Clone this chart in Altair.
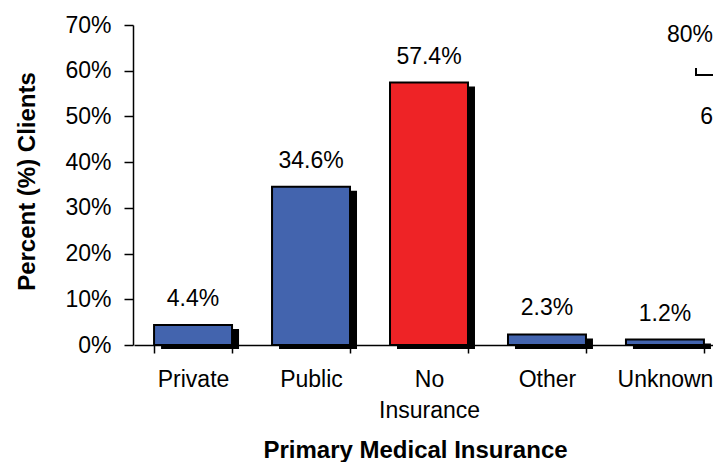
import altair as alt
import pandas as pd

categories = ["Private", "Public", "No Insurance", "Other", "Unknown"]
percents = [4.4, 34.6, 57.4, 2.3, 1.2]
bar_colors = ["#4364AE", "#4364AE", "#EE2326", "#4364AE", "#4364AE"]
value_labels = ["4.4%", "34.6%", "57.4%", "2.3%", "1.2%"]
y_ticks = [0, 10, 20, 30, 40, 50, 60, 70]

# fragments of a neighbouring chart visible at the right edge
fragment_texts = ["80%", "6"]

FONT = "Liberation Sans"
FS = 23

df = pd.DataFrame({"category": categories, "pct": percents,
                   "color": bar_colors, "label": value_labels})

x = alt.X("category:N", sort=categories,
          scale=alt.Scale(paddingInner=0.339, paddingOuter=0.17, range=[1, 591]),
          axis=alt.Axis(title="Primary Medical Insurance", labelAngle=0,
                        labelExpr="split(datum.label, ' ')",
                        tickBand="extent", tickSize=8, labelPadding=15,
                        labelBaseline="top", labelLineHeight=31,
                        titleX=282, titleY=105, titleBaseline="middle",
                        titleAlign="center"))
y = alt.Y("pct:Q", scale=alt.Scale(domain=[0, 70]),
          axis=alt.Axis(values=y_ticks, labelExpr="datum.value + '%'",
                        title="Percent (%) Clients", tickSize=9,
                        labelPadding=13, grid=False,
                        titleX=-106, titleY=156, titleBaseline="middle",
                        titleAlign="center", titleAngle=-90))

base = alt.Chart(df)
shadow = base.mark_bar(color="black", xOffset=7, yOffset=4).encode(x=x, y=y)
bars = base.mark_bar(stroke="black", strokeWidth=2).encode(
    x=x, y=y, color=alt.Color("color:N", scale=None))
labels = base.mark_text(baseline="alphabetic", dy=-19, fontSize=FS,
                        font=FONT, color="black").encode(x=x, y=y, text="label:N")

frag1 = alt.Chart(pd.DataFrame({"t": [fragment_texts[0]]})).mark_text(
    fontSize=FS, font=FONT, align="right", baseline="middle", color="black"
).encode(x=alt.value(580), y=alt.value(10), text="t:N")
frag2 = alt.Chart(pd.DataFrame({"t": [fragment_texts[1]]})).mark_text(
    fontSize=FS, font=FONT, align="right", baseline="middle", color="black"
).encode(x=alt.value(580), y=alt.value(92), text="t:N")
frag_v = alt.Chart(pd.DataFrame({"t": [0]})).mark_rule(color="black", strokeWidth=2).encode(
    x=alt.value(563), y=alt.value(43), y2=alt.value(51))
frag_h = alt.Chart(pd.DataFrame({"t": [0]})).mark_rule(color="black", strokeWidth=2).encode(
    x=alt.value(562), x2=alt.value(600), y=alt.value(50))

chart = alt.layer(shadow, bars, labels, frag1, frag2, frag_v, frag_h).properties(
    width=580, height=320,
    autosize=alt.AutoSizeParams(type="none"),
    padding={"left": 125, "top": 17, "right": 0, "bottom": 117},
).configure_view(stroke=None).configure_axis(
    labelFont=FONT, labelFontSize=FS, labelColor="black",
    titleFont=FONT, titleFontSize=24, titleFontWeight="bold", titleColor="black",
    domainColor="black", domainWidth=1.5, tickColor="black", tickWidth=1.5,
)

chart.save("out.html", embed_options={"renderer": "svg", "actions": False})
